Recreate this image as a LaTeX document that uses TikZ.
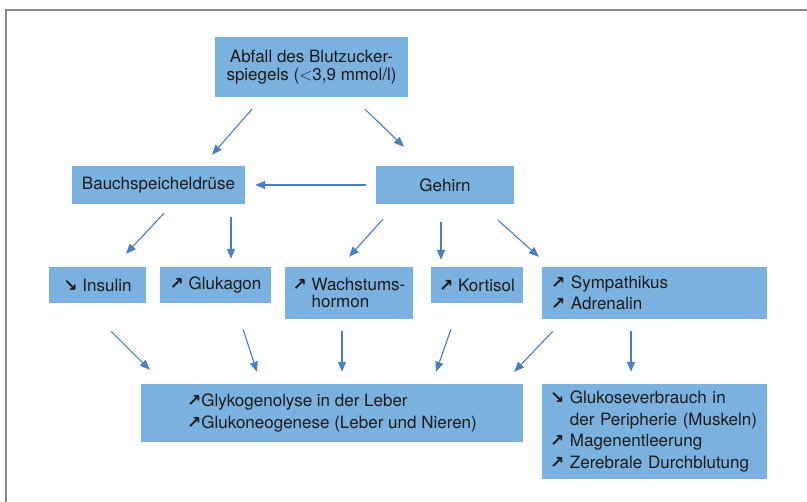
\documentclass[tikz,border=0pt]{standalone}
\usepackage{fontspec}
\setmainfont{TeX Gyre Heros}
\newfontfamily\pfeilfont[Scale=1.0]{DejaVu Sans Bold}
\usetikzlibrary{arrows.meta}

\definecolor{kasten}{RGB}{122,177,222}
\definecolor{pfeilblau}{RGB}{74,127,193}
\definecolor{schrift}{RGB}{30,27,28}
\definecolor{rahmengrau}{RGB}{140,140,140}

\newcommand{\pfhoch}{{\pfeilfont ↗}}
\newcommand{\pfrunter}{{\pfeilfont ↘}}

\begin{document}
\begin{tikzpicture}[x=1pt,y=-1pt,
	box/.style={fill=kasten,text=schrift,inner sep=0pt,align=center,
		font=\fontsize{17}{21.5}\selectfont},
	pfeil/.style={draw=pfeilblau,line width=1.1pt,
		-{Triangle[length=10pt,width=8pt]}}]
		\useasboundingbox (0,0) rectangle (807,502);
		\draw[rahmengrau,line width=1.8pt] (6,502) -- (6,10) -- (807,10);
		
		\node[box,minimum width=193pt,minimum height=60pt,font=\fontsize{17}{18}\selectfont] at (311.5,67) (abfall) {Abfall des Blutzucker-\\spiegels ($<$3,9 mmol/l)};
		
		\node[box,minimum width=173pt,minimum height=38pt] at (158.5,185) (bauch) {Bauchspeicheldrüse};
		\node[box,minimum width=138pt,minimum height=38pt] at (445,185) (gehirn) {Gehirn};
		
		\node[box,minimum width=97pt,minimum height=36pt] at (97.5,285) (insulin) {\pfrunter\ Insulin};
		\node[box,minimum width=111pt,minimum height=36pt] at (215.5,285) (glukagon) {\pfhoch\ Glukagon};
		\node[box,minimum width=128pt,minimum height=52pt,align=left,font=\fontsize{17}{16.5}\selectfont] at (349,293) (wachstum) {\pfhoch\ Wachstums-\\\phantom{\pfhoch\ }hormon};
		\node[box,minimum width=92pt,minimum height=36pt] at (477,285) (kortisol) {\pfhoch\ Kortisol};
		\node[box,text width=207pt,inner xsep=9pt,minimum height=52pt,align=left] at (654.5,293) (sympath) {\pfhoch\ Sympathikus\\\pfhoch\ Adrenalin};
		
		\node[box,minimum width=382pt,minimum height=58pt,align=left] at (332,413) (glyko) {\pfhoch Glykogenolyse in der Leber\\\pfhoch Glukoneogenese (Leber und Nieren)};
		\node[box,text width=209pt,inner xsep=8pt,minimum height=95pt,align=left] at (654.5,431.5) (verbrauch) {\pfrunter\ Glukoseverbrauch in\\\phantom{\pfrunter\ }der Peripherie (Muskeln)\\\pfhoch\ Magenentleerung\\\pfhoch\ Zerebrale Durchblutung};
		
		\draw[pfeil] ([xshift=-59.5pt,yshift=-12pt]abfall.south) -- ([xshift=53.5pt,yshift=11pt]bauch.north);
		\draw[pfeil] ([xshift=53.5pt,yshift=-12pt]abfall.south) -- ([xshift=-41pt,yshift=19pt]gehirn.north);
		\draw[pfeil] ([xshift=-10pt]gehirn.west) -- ([xshift=10pt]bauch.east);
		
		\draw[pfeil] ([xshift=5.5pt,yshift=-9pt]bauch.south) -- ([xshift=28.5pt,yshift=13pt]insulin.north);
		\draw[pfeil] ([xshift=72.5pt,yshift=-13pt]bauch.south) -- ([xshift=15.5pt,yshift=8pt]glukagon.north);
		\draw[pfeil] ([xshift=-62pt,yshift=-15pt]gehirn.south) -- ([yshift=10pt]wachstum.north);
		\draw[pfeil] ([xshift=-4pt,yshift=-18pt]gehirn.south) -- ([xshift=-36pt,yshift=7pt]kortisol.north);
		\draw[pfeil] ([xshift=53pt,yshift=-16pt]gehirn.south) -- ([xshift=-3pt,yshift=10pt]sympath.north west);
		
		\draw[pfeil] ([xshift=13.5pt,yshift=-28pt]insulin.south) -- ([xshift=9pt,yshift=14pt]glyko.north west);
		\draw[pfeil] ([xshift=27.5pt,yshift=-26pt]glukagon.south) -- ([xshift=-75pt,yshift=12pt]glyko.north);
		\draw[pfeil] ([xshift=-7pt,yshift=-12pt]wachstum.south) -- ([xshift=10pt,yshift=12pt]glyko.north);
		\draw[pfeil] ([xshift=-26pt,yshift=-26pt]kortisol.south) -- ([xshift=104pt,yshift=12pt]glyko.north);
		\draw[pfeil] ([xshift=11pt,yshift=-12pt]sympath.south west) -- ([xshift=-9pt,yshift=12pt]glyko.north east);
		\draw[pfeil] ([xshift=-23.5pt,yshift=-12pt]sympath.south) -- ([xshift=-23.5pt,yshift=12pt]verbrauch.north);
\end{tikzpicture}
\end{document}
